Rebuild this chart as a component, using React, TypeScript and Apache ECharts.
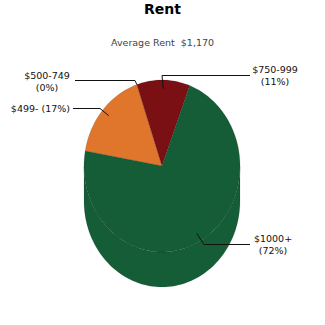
import React, { useEffect, useRef } from "react";
import * as echarts from "echarts";

// Rent distribution by bracket (percent of households)
const categories = ["$499-", "$500-749", "$750-999", "$1000+"];
const shares = [17, 0, 11, 72];
const sliceColors = ["#E0762B", "#9A5A22", "#7A1014", "#145D37"];

const chartTitle = "Rent";
const chartSubtitle = "Average Rent  $1,170";

// Pie geometry (pixels / degrees)
const CX = 162;
const CY = 166;
const RX = 78;
const RY = 86;
const DEPTH = 35;
const START_DEG = 170;

// Label placement: text anchor, elbow and leader end
const labelPlacement = [
  { x: 70, y: 108, align: "right", wrap: false, elbowX: 100, lineY: 108, endX: 73, r: 0.9 },
  { x: 47, y: 81, align: "center", wrap: true, elbowX: 135, lineY: 80, endX: 75, r: 1.0 },
  { x: 275, y: 75.5, align: "center", wrap: true, elbowX: 162, lineY: 75, endX: 250, r: 0.9 },
  { x: 273, y: 244.5, align: "center", wrap: true, elbowX: 204, lineY: 244, endX: 250, r: 0.9 },
];

const total = shares.reduce((a, b) => a + b, 0);

function sliceRange(i: number) {
  let before = 0;
  for (let k = 0; k < i; k++) before += shares[k];
  const hi = START_DEG - (before / total) * 360;
  const lo = hi - (shares[i] / total) * 360;
  return { hi, lo };
}

function pointAt(deg: number, rScale: number, dy: number) {
  const a = (deg * Math.PI) / 180;
  return [CX + RX * rScale * Math.cos(a), CY - RY * rScale * Math.sin(a) + dy];
}

function arcPts(a0: number, a1: number, dy: number) {
  const n = Math.max(2, Math.ceil(Math.abs(a1 - a0) / 2));
  const pts: number[][] = [];
  for (let k = 0; k <= n; k++) {
    pts.push(pointAt(a0 + ((a1 - a0) * k) / n, 1, dy));
  }
  return pts;
}

export default function App() {
  const ref = useRef<HTMLDivElement>(null);

  useEffect(() => {
    if (!ref.current) return;
    const chart = echarts.init(ref.current, undefined, { renderer: "svg" });
    const data = shares.map((v, i) => [i, v]);

    chart.setOption({
      animation: false,
      backgroundColor: "#ffffff",
      title: {
        text: chartTitle,
        subtext: chartSubtitle,
        left: "center",
        top: 0,
        padding: [2, 0, 0, 0],
        itemGap: 21,
        textStyle: {
          fontFamily: "DejaVu Sans",
          fontWeight: "bold",
          fontSize: 14,
          color: "#000000",
        },
        subtextStyle: {
          fontFamily: "DejaVu Sans",
          fontSize: 9.5,
          color: "#444444",
        },
      },
      series: [
        {
          // extruded wall of the pie, front half only
          type: "custom",
          coordinateSystem: "none",
          silent: true,
          z: 1,
          data,
          renderItem: (params: any) => {
            const i = params.dataIndex;
            if (shares[i] <= 0) return { type: "group", children: [] };
            const { hi, lo } = sliceRange(i);
            const children: any[] = [];
            for (let k = -1; k <= 1; k++) {
              const s = Math.max(lo, -180 + 360 * k);
              const e = Math.min(hi, 360 * k);
              if (e > s) {
                children.push({
                  type: "polygon",
                  shape: { points: [...arcPts(e, s, 0), ...arcPts(s, e, DEPTH)] },
                  style: { fill: sliceColors[i], stroke: "rgba(0,0,0,0.12)", lineWidth: 0.8 },
                });
              }
            }
            return { type: "group", children };
          },
        },
        {
          // top face of each slice
          type: "custom",
          coordinateSystem: "none",
          silent: true,
          z: 2,
          data,
          renderItem: (params: any) => {
            const i = params.dataIndex;
            if (shares[i] <= 0) return { type: "group", children: [] };
            const { hi, lo } = sliceRange(i);
            return {
              type: "polygon",
              shape: { points: [[CX, CY], ...arcPts(hi, lo, 0)] },
              style: { fill: sliceColors[i], stroke: "rgba(0,0,0,0.16)", lineWidth: 0.8 },
            };
          },
        },
        {
          // labels with leader lines
          type: "custom",
          coordinateSystem: "none",
          silent: true,
          z: 3,
          data,
          renderItem: (params: any) => {
            const i = params.dataIndex;
            const p = labelPlacement[i];
            const { hi, lo } = sliceRange(i);
            const anchor = pointAt((hi + lo) / 2, p.r, 0);
            const sep = p.wrap ? "\n" : " ";
            return {
              type: "group",
              children: [
                {
                  type: "polyline",
                  shape: {
                    points: [anchor, [p.elbowX, p.lineY + 0.5], [p.endX, p.lineY + 0.5]],
                  },
                  style: { stroke: "#111111", lineWidth: 1, fill: null },
                },
                {
                  type: "text",
                  style: {
                    text: `${categories[i]}${sep}(${shares[i]}%)`,
                    x: p.x,
                    y: p.y,
                    align: p.align,
                    verticalAlign: "middle",
                    fontFamily: "DejaVu Sans",
                    fontSize: 9.5,
                    lineHeight: 12,
                    fill: "#111111",
                  },
                },
              ],
            };
          },
        },
      ],
    });

    return () => chart.dispose();
  }, []);

  return (
    <div
      ref={ref}
      style={{ position: "fixed", left: 0, top: 0, width: 325, height: 325 }}
    />
  );
}
